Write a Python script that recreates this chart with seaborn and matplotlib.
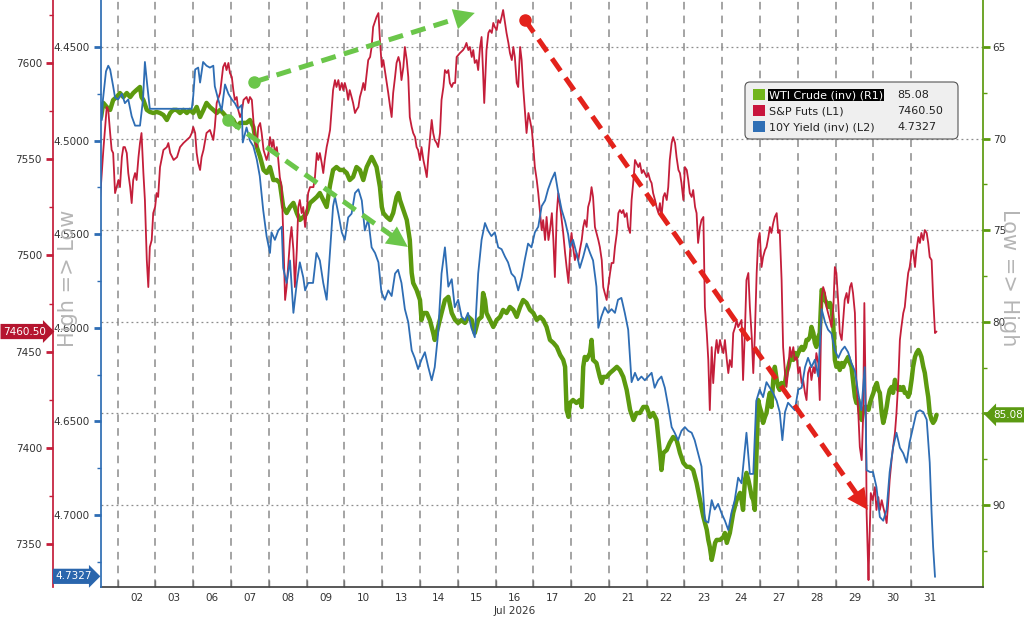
import numpy as np
import matplotlib
matplotlib.use('Agg')
import matplotlib.pyplot as plt
import seaborn as sns
from matplotlib.patches import FancyBboxPatch, Rectangle
from matplotlib.ticker import FixedLocator, FormatStrFormatter

# x axis = trading session index: session k spans [k, k+1), 02 Jul = 1 ... 31 Jul = 22
day_labels = ['02', '03', '06', '07', '08', '09', '10', '13', '14', '15', '16',
              '17', '20', '21', '22', '23', '24', '27', '28', '29', '30', '31']

# 10Y yield (inverted, inner left axis)
y10_t = [0.58, 0.61, 0.69, 0.75, 0.80, 0.88, 0.93, 1.01, 1.11, 1.19,
         1.28, 1.37, 1.46, 1.59, 1.67, 1.72, 1.78, 1.85, 2.96, 3.00,
         3.05, 3.13, 3.18, 3.26, 3.35, 3.44, 3.53, 3.57, 3.66, 3.75,
         3.84, 3.93, 4.02, 4.10, 4.18, 4.28, 4.31, 4.41, 4.50, 4.59,
         4.68, 4.76, 4.85, 4.94, 5.03, 5.07, 5.16, 5.25, 5.34, 5.38,
         5.47, 5.56, 5.65, 5.74, 5.82, 5.91, 5.96, 6.04, 6.17, 6.26,
         6.35, 6.44, 6.53, 6.62, 6.70, 6.75, 6.84, 6.93, 7.01, 7.10,
         7.19, 7.28, 7.37, 7.46, 7.54, 7.63, 7.72, 7.81, 7.90, 7.98,
         8.07, 8.16, 8.25, 8.34, 8.42, 8.51, 8.60, 8.69, 8.78, 8.86,
         8.95, 9.04, 9.13, 9.22, 9.31, 9.39, 9.48, 9.57, 9.66, 9.75,
         9.84, 9.92, 10.01, 10.10, 10.19, 10.27, 10.36, 10.45, 10.54, 10.63,
         10.72, 10.80, 10.89, 10.98, 11.07, 11.16, 11.25, 11.33, 11.42, 11.51,
         11.60, 11.69, 11.77, 11.86, 11.95, 12.04, 12.13, 12.22, 12.31, 12.39,
         12.48, 12.57, 12.66, 12.75, 12.84, 12.92, 12.97, 13.05, 13.14, 13.23,
         13.32, 13.41, 13.50, 13.58, 13.67, 13.72, 13.80, 13.89, 13.98, 14.07,
         14.16, 14.24, 14.33, 14.42, 14.51, 14.60, 14.69, 14.77, 14.86, 14.95,
         15.04, 15.13, 15.21, 15.30, 15.39, 15.48, 15.57, 15.66, 15.74, 15.83,
         15.92, 16.01, 16.10, 16.19, 16.27, 16.36, 16.45, 16.54, 16.63, 16.72,
         16.80, 16.89, 16.98, 17.07, 17.16, 17.24, 17.33, 17.42, 17.51, 17.64,
         17.73, 17.82, 17.90, 17.99, 18.08, 18.17, 18.26, 18.35, 18.44, 18.52,
         18.59, 18.66, 18.74, 18.83, 18.92, 19.01, 19.10, 19.19, 19.27, 19.36,
         19.45, 19.54, 19.63, 19.72, 19.80, 19.89, 19.98, 20.07, 20.16, 20.24,
         20.33, 20.42, 20.51, 20.60, 20.68, 20.77, 20.82, 20.91, 20.99, 21.08,
         21.17, 21.26, 21.35, 21.43, 21.52, 21.61, 21.70, 21.79, 21.88, 21.96,
         22.05, 22.14, 22.23, 22.32, 22.41, 22.49, 22.54, 22.58, 22.63]
y10 = [4.489, 4.478, 4.463, 4.460, 4.462, 4.471, 4.477, 4.478, 4.475, 4.480,
       4.478, 4.487, 4.492, 4.492, 4.478, 4.458, 4.470, 4.483, 4.483, 4.476,
       4.462, 4.461, 4.469, 4.458, 4.460, 4.461, 4.460, 4.471, 4.478, 4.484,
       4.470, 4.475, 4.478, 4.480, 4.483, 4.481, 4.501, 4.493, 4.500, 4.503,
       4.510, 4.519, 4.537, 4.551, 4.560, 4.549, 4.553, 4.548, 4.546, 4.568,
       4.576, 4.564, 4.592, 4.576, 4.565, 4.573, 4.580, 4.576, 4.576, 4.560,
       4.564, 4.576, 4.585, 4.559, 4.535, 4.530, 4.539, 4.549, 4.553, 4.541,
       4.539, 4.528, 4.526, 4.532, 4.548, 4.542, 4.557, 4.560, 4.565, 4.581,
       4.585, 4.580, 4.583, 4.571, 4.569, 4.576, 4.590, 4.597, 4.612, 4.616,
       4.622, 4.617, 4.613, 4.621, 4.628, 4.621, 4.603, 4.571, 4.557, 4.578,
       4.574, 4.589, 4.585, 4.594, 4.596, 4.592, 4.600, 4.605, 4.571, 4.553,
       4.544, 4.548, 4.551, 4.549, 4.557, 4.558, 4.562, 4.565, 4.571, 4.573,
       4.580, 4.573, 4.564, 4.555, 4.557, 4.549, 4.546, 4.535, 4.532, 4.526,
       4.521, 4.517, 4.528, 4.537, 4.543, 4.550, 4.557, 4.553, 4.560, 4.568,
       4.562, 4.555, 4.560, 4.564, 4.578, 4.600, 4.594, 4.589, 4.592, 4.590,
       4.592, 4.585, 4.584, 4.592, 4.601, 4.629, 4.624, 4.628, 4.626, 4.628,
       4.626, 4.624, 4.632, 4.628, 4.626, 4.632, 4.642, 4.653, 4.656, 4.660,
       4.655, 4.653, 4.655, 4.656, 4.660, 4.667, 4.674, 4.703, 4.704, 4.692,
       4.697, 4.694, 4.699, 4.703, 4.708, 4.699, 4.692, 4.680, 4.683, 4.656,
       4.678, 4.678, 4.639, 4.633, 4.637, 4.629, 4.632, 4.635, 4.639, 4.645,
       4.660, 4.645, 4.640, 4.642, 4.644, 4.633, 4.632, 4.621, 4.616, 4.621,
       4.617, 4.626, 4.590, 4.597, 4.601, 4.603, 4.612, 4.616, 4.612, 4.610,
       4.613, 4.619, 4.623, 4.635, 4.644, 4.621, 4.676, 4.677, 4.677, 4.685,
       4.701, 4.703, 4.697, 4.677, 4.664, 4.656, 4.664, 4.667, 4.672, 4.661,
       4.653, 4.645, 4.644, 4.645, 4.649, 4.672, 4.699, 4.717, 4.733]

# S&P futures (outer left axis)
spx_t = [0.53, 0.62, 0.71, 0.75, 0.80, 0.84, 0.88, 0.93, 0.97, 1.02,
         1.06, 1.11, 1.15, 1.19, 1.24, 1.28, 1.33, 1.37, 1.41, 1.46,
         1.50, 1.55, 1.59, 1.63, 1.68, 1.72, 1.77, 1.81, 1.85, 1.90,
         1.94, 1.99, 2.03, 2.07, 2.12, 2.21, 2.30, 2.34, 2.39, 2.48,
         2.57, 2.65, 2.74, 2.83, 2.91, 2.96, 3.00, 3.05, 3.09, 3.13,
         3.18, 3.22, 3.27, 3.35, 3.44, 3.53, 3.57, 3.62, 3.71, 3.79,
         3.84, 3.88, 3.93, 3.97, 4.02, 4.06, 4.10, 4.15, 4.19, 4.24,
         4.28, 4.33, 4.41, 4.46, 4.50, 4.55, 4.59, 4.63, 4.68, 4.72,
         4.77, 4.81, 4.86, 4.94, 4.99, 5.03, 5.08, 5.12, 5.16, 5.21,
         5.25, 5.29, 5.34, 5.38, 5.43, 5.47, 5.51, 5.56, 5.60, 5.65,
         5.69, 5.74, 5.78, 5.82, 5.87, 5.91, 5.96, 6.00, 6.04, 6.09,
         6.18, 6.22, 6.27, 6.31, 6.35, 6.40, 6.44, 6.48, 6.53, 6.57,
         6.62, 6.66, 6.70, 6.75, 6.79, 6.84, 6.88, 6.93, 6.97, 7.01,
         7.06, 7.10, 7.14, 7.19, 7.23, 7.28, 7.32, 7.37, 7.41, 7.46,
         7.50, 7.54, 7.59, 7.63, 7.68, 7.72, 7.76, 7.85, 7.90, 7.94,
         7.99, 8.03, 8.07, 8.12, 8.16, 8.21, 8.25, 8.29, 8.34, 8.38,
         8.43, 8.47, 8.51, 8.56, 8.60, 8.65, 8.69, 8.73, 8.78, 8.82,
         8.87, 8.91, 8.95, 9.00, 9.04, 9.09, 9.13, 9.18, 9.22, 9.26,
         9.31, 9.35, 9.39, 9.44, 9.48, 9.53, 9.57, 9.62, 9.66, 9.71,
         9.75, 9.79, 9.84, 9.88, 9.93, 9.97, 10.06, 10.14, 10.19, 10.23,
         10.28, 10.32, 10.37, 10.41, 10.45, 10.50, 10.54, 10.59, 10.63, 10.67,
         10.70, 10.76, 10.81, 10.85, 10.90, 10.94, 10.98, 11.03, 11.07, 11.12,
         11.16, 11.20, 11.25, 11.29, 11.34, 11.38, 11.43, 11.47, 11.51, 11.56,
         11.60, 11.65, 11.69, 11.73, 11.78, 11.82, 11.87, 11.91, 11.96, 12.00,
         12.04, 12.09, 12.13, 12.18, 12.22, 12.26, 12.31, 12.35, 12.40, 12.44,
         12.49, 12.53, 12.57, 12.62, 12.66, 12.71, 12.75, 12.79, 12.84, 12.88,
         12.93, 12.97, 13.01, 13.05, 13.10, 13.14, 13.19, 13.23, 13.28, 13.32,
         13.36, 13.41, 13.45, 13.50, 13.54, 13.58, 13.63, 13.67, 13.72, 13.76,
         13.81, 13.85, 13.89, 13.94, 13.98, 14.03, 14.07, 14.12, 14.16, 14.21,
         14.25, 14.29, 14.34, 14.38, 14.42, 14.47, 14.51, 14.56, 14.60, 14.65,
         14.69, 14.73, 14.78, 14.82, 14.87, 14.91, 14.95, 15.00, 15.04, 15.09,
         15.13, 15.17, 15.22, 15.26, 15.31, 15.35, 15.39, 15.44, 15.48, 15.53,
         15.57, 15.61, 15.66, 15.70, 15.75, 15.79, 15.84, 15.88, 15.92, 15.97,
         16.01, 16.06, 16.10, 16.14, 16.19, 16.23, 16.28, 16.32, 16.36, 16.41,
         16.45, 16.50, 16.54, 16.59, 16.63, 16.67, 16.72, 16.76, 16.81, 16.85,
         16.89, 16.94, 16.98, 17.03, 17.07, 17.12, 17.16, 17.20, 17.25, 17.29,
         17.34, 17.38, 17.42, 17.47, 17.51, 17.55, 17.60, 17.64, 17.69, 17.73,
         17.78, 17.82, 17.86, 17.91, 17.95, 17.99, 18.04, 18.08, 18.13, 18.17,
         18.22, 18.26, 18.30, 18.35, 18.39, 18.44, 18.48, 18.52, 18.57, 18.61,
         18.66, 18.70, 18.75, 18.79, 18.83, 18.88, 18.92, 18.97, 19.01, 19.05,
         19.10, 19.14, 19.19, 19.23, 19.27, 19.32, 19.36, 19.41, 19.45, 19.49,
         19.54, 19.58, 19.63, 19.67, 19.72, 19.76, 19.80, 19.85, 19.89, 19.94,
         19.98, 20.02, 20.07, 20.11, 20.16, 20.20, 20.24, 20.29, 20.33, 20.38,
         20.42, 20.46, 20.51, 20.55, 20.60, 20.64, 20.69, 20.73, 20.76, 20.80,
         20.82, 20.87, 20.89, 20.93, 20.98, 21.04, 21.08, 21.13, 21.17, 21.22,
         21.26, 21.30, 21.35, 21.39, 21.43, 21.48, 21.52, 21.57, 21.61, 21.66,
         21.70, 21.74, 21.79, 21.83, 21.88, 21.92, 21.96, 22.01, 22.05, 22.10,
         22.14, 22.19, 22.23, 22.27, 22.32, 22.36, 22.41, 22.45, 22.49, 22.54,
         22.58, 22.63, 22.67]
spx = [7528.8, 7554.8, 7577.1, 7575.6, 7563.6, 7554.8, 7553.2, 7532.4, 7535.5, 7539.2,
       7535.5, 7551.1, 7556.3, 7556.3, 7553.2, 7542.8, 7535.5, 7527.2, 7539.2, 7542.8,
       7539.2, 7551.1, 7558.4, 7563.6, 7542.8, 7528.8, 7497.6, 7483.6, 7504.4, 7508.0,
       7522.0, 7525.2, 7532.4, 7530.4, 7545.9, 7554.8, 7556.3, 7558.4, 7553.2, 7549.6,
       7551.1, 7556.3, 7558.4, 7560.0, 7561.5, 7563.6, 7566.7, 7563.6, 7553.2, 7548.0,
       7544.4, 7551.1, 7554.8, 7563.6, 7565.2, 7560.0, 7566.7, 7579.2, 7584.4, 7597.9,
       7600.0, 7596.3, 7600.0, 7594.8, 7592.7, 7585.9, 7580.8, 7582.3, 7575.6, 7571.9,
       7574.0, 7580.8, 7582.3, 7579.2, 7582.3, 7580.8, 7570.4, 7560.0, 7556.3, 7566.7,
       7568.8, 7563.6, 7554.8, 7549.6, 7553.2, 7561.5, 7556.3, 7560.0, 7553.2, 7556.3,
       7549.6, 7540.7, 7535.5, 7511.7, 7476.9, 7483.6, 7494.0, 7508.0, 7514.8, 7502.8,
       7483.6, 7502.8, 7525.2, 7528.8, 7522.0, 7525.2, 7514.8, 7522.0, 7532.4, 7535.5,
       7535.5, 7540.7, 7553.2, 7549.6, 7553.2, 7548.0, 7542.8, 7549.6, 7556.3, 7560.0,
       7565.2, 7575.6, 7585.9, 7591.1, 7587.5, 7591.1, 7585.9, 7589.6, 7585.9, 7589.6,
       7585.9, 7580.8, 7585.9, 7582.3, 7579.2, 7574.0, 7575.6, 7577.1, 7582.3, 7585.9,
       7589.6, 7585.9, 7594.8, 7601.5, 7603.1, 7608.3, 7618.7, 7623.9, 7625.9, 7611.9,
       7597.9, 7601.5, 7596.3, 7589.6, 7584.4, 7577.1, 7571.9, 7584.4, 7592.7, 7600.0,
       7603.1, 7600.0, 7591.1, 7597.9, 7608.3, 7601.5, 7592.7, 7571.9, 7566.7, 7563.6,
       7561.5, 7556.3, 7554.8, 7549.6, 7556.3, 7549.6, 7545.9, 7540.7, 7551.1, 7560.0,
       7570.4, 7563.6, 7560.0, 7558.4, 7556.3, 7563.6, 7580.8, 7587.5, 7596.3, 7594.8,
       7596.3, 7589.6, 7587.5, 7589.6, 7589.6, 7603.1, 7605.2, 7606.7, 7608.3, 7610.4,
       7606.7, 7608.3, 7603.1, 7606.7, 7600.0, 7601.5, 7596.3, 7608.3, 7613.5, 7594.8,
       7579.2, 7606.7, 7615.6, 7617.1, 7615.6, 7620.8, 7618.7, 7617.1, 7622.3, 7620.8,
       7623.9, 7627.5, 7620.8, 7615.6, 7610.4, 7605.2, 7601.5, 7608.3, 7603.1, 7589.6,
       7587.5, 7608.3, 7601.5, 7587.5, 7574.0, 7563.6, 7574.0, 7570.4, 7565.2, 7556.3,
       7545.9, 7539.2, 7532.4, 7522.0, 7513.2, 7518.4, 7508.0, 7520.0, 7508.0, 7513.2,
       7522.0, 7508.0, 7488.8, 7522.0, 7532.4, 7525.2, 7518.4, 7511.7, 7501.3, 7494.0,
       7485.7, 7501.3, 7511.7, 7504.4, 7497.6, 7501.3, 7497.6, 7502.8, 7508.0, 7514.8,
       7518.4, 7514.8, 7525.2, 7528.8, 7535.5, 7530.4, 7514.8, 7511.7, 7508.0, 7504.4,
       7497.6, 7483.6, 7480.5, 7476.9, 7483.6, 7490.9, 7496.1, 7496.1, 7504.4, 7511.7,
       7522.0, 7523.6, 7522.0, 7523.6, 7520.0, 7522.0, 7514.8, 7511.7, 7528.8, 7539.2,
       7549.6, 7548.0, 7545.9, 7548.0, 7542.8, 7544.4, 7542.8, 7540.7, 7542.8, 7539.2,
       7537.6, 7532.4, 7528.8, 7525.2, 7522.0, 7527.2, 7520.0, 7530.4, 7532.4, 7528.8,
       7535.5, 7549.6, 7558.4, 7561.5, 7558.4, 7551.1, 7544.4, 7542.8, 7537.6, 7528.8,
       7545.9, 7544.4, 7539.2, 7532.4, 7530.4, 7534.0, 7525.2, 7522.0, 7506.5, 7514.8,
       7518.4, 7520.0, 7473.2, 7459.7, 7445.7, 7419.7, 7452.4, 7433.7, 7449.3, 7456.1,
       7449.3, 7456.1, 7452.4, 7449.3, 7456.1, 7445.7, 7438.9, 7445.7, 7442.0, 7459.7,
       7462.8, 7466.5, 7462.8, 7464.9, 7466.5, 7435.3, 7461.3, 7487.2, 7490.9, 7473.2,
       7457.6, 7438.9, 7457.6, 7490.9, 7508.0, 7511.7, 7494.0, 7499.2, 7502.8, 7504.4,
       7509.6, 7514.8, 7511.7, 7516.9, 7520.0, 7522.0, 7511.7, 7513.2, 7487.2, 7452.4,
       7438.9, 7431.7, 7442.0, 7452.4, 7447.2, 7452.4, 7445.7, 7447.2, 7438.9, 7442.0,
       7433.7, 7435.3, 7428.5, 7424.9, 7438.9, 7442.0, 7435.3, 7442.0, 7438.9, 7449.3,
       7444.1, 7424.9, 7478.4, 7483.6, 7480.5, 7473.2, 7470.1, 7466.5, 7462.8, 7473.2,
       7494.0, 7490.9, 7475.3, 7459.7, 7456.1, 7466.5, 7476.9, 7480.5, 7475.3, 7483.6,
       7485.7, 7480.5, 7470.1, 7435.3, 7418.2, 7400.5, 7393.7, 7418.2, 7475.3, 7418.2,
       7366.2, 7331.4, 7348.5, 7376.6, 7372.9, 7379.7, 7367.8, 7374.5, 7367.8, 7372.9,
       7369.3, 7366.2, 7361.0, 7371.4, 7383.3, 7393.7, 7400.5, 7407.8, 7418.2, 7435.3,
       7456.1, 7462.8, 7470.1, 7473.2, 7483.6, 7490.9, 7494.0, 7501.3, 7502.8, 7494.0,
       7502.8, 7509.6, 7506.5, 7511.7, 7508.0, 7513.2, 7511.7, 7506.5, 7499.2, 7497.6,
       7478.4, 7459.7, 7460.5]

# WTI crude (inverted, right axis)
wti_t = [0.56, 0.62, 0.71, 0.80, 0.88, 0.97, 1.06, 1.15, 1.24, 1.33,
         1.41, 1.50, 1.59, 1.63, 1.68, 1.77, 1.85, 1.94, 2.03, 2.12,
         2.21, 2.30, 2.39, 2.47, 2.56, 2.65, 2.74, 2.83, 2.91, 3.00,
         3.09, 3.18, 3.27, 3.35, 3.44, 3.53, 3.62, 3.71, 3.79, 3.88,
         3.97, 4.06, 4.15, 4.24, 4.33, 4.41, 4.50, 4.59, 4.68, 4.77,
         4.86, 4.94, 5.03, 5.12, 5.21, 5.29, 5.38, 5.47, 5.56, 5.65,
         5.74, 5.82, 5.91, 6.00, 6.09, 6.18, 6.27, 6.35, 6.44, 6.53,
         6.62, 6.70, 6.79, 6.88, 6.97, 7.06, 7.14, 7.23, 7.32, 7.41,
         7.50, 7.59, 7.68, 7.72, 7.76, 7.85, 7.94, 7.99, 8.03, 8.12,
         8.21, 8.29, 8.38, 8.43, 8.47, 8.56, 8.65, 8.73, 8.78, 8.82,
         8.91, 9.00, 9.04, 9.09, 9.18, 9.26, 9.35, 9.39, 9.48, 9.57,
         9.66, 9.75, 9.84, 9.93, 10.01, 10.10, 10.19, 10.28, 10.37, 10.45,
         10.54, 10.63, 10.67, 10.72, 10.76, 10.85, 10.94, 11.03, 11.12, 11.20,
         11.29, 11.38, 11.47, 11.56, 11.65, 11.73, 11.82, 11.91, 12.00, 12.09,
         12.18, 12.26, 12.35, 12.44, 12.53, 12.62, 12.71, 12.79, 12.84, 12.88,
         12.93, 12.97, 13.05, 13.14, 13.23, 13.28, 13.32, 13.36, 13.41, 13.50,
         13.54, 13.58, 13.67, 13.76, 13.81, 13.85, 13.94, 14.03, 14.12, 14.21,
         14.29, 14.38, 14.47, 14.56, 14.65, 14.73, 14.82, 14.91, 15.00, 15.09,
         15.17, 15.26, 15.35, 15.39, 15.44, 15.53, 15.61, 15.70, 15.79, 15.84,
         15.88, 15.97, 16.06, 16.14, 16.23, 16.32, 16.41, 16.50, 16.59, 16.63,
         16.67, 16.72, 16.76, 16.81, 16.85, 16.94, 17.03, 17.07, 17.12, 17.20,
         17.29, 17.38, 17.47, 17.51, 17.55, 17.60, 17.64, 17.69, 17.73, 17.78,
         17.82, 17.86, 17.91, 17.95, 17.99, 18.04, 18.08, 18.13, 18.17, 18.22,
         18.26, 18.30, 18.35, 18.39, 18.44, 18.48, 18.52, 18.57, 18.61, 18.66,
         18.70, 18.75, 18.79, 18.83, 18.88, 18.92, 18.97, 19.01, 19.05, 19.10,
         19.14, 19.19, 19.23, 19.27, 19.32, 19.36, 19.41, 19.45, 19.49, 19.54,
         19.58, 19.63, 19.67, 19.72, 19.76, 19.80, 19.85, 19.89, 19.94, 19.98,
         20.02, 20.07, 20.11, 20.16, 20.20, 20.24, 20.29, 20.33, 20.38, 20.42,
         20.46, 20.51, 20.55, 20.60, 20.64, 20.69, 20.73, 20.77, 20.82, 20.87,
         20.91, 20.96, 21.00, 21.04, 21.09, 21.13, 21.17, 21.22, 21.26, 21.30,
         21.35, 21.39, 21.43, 21.48, 21.52, 21.57, 21.61, 21.66, 21.70, 21.74,
         21.79, 21.83, 21.88, 21.92, 21.96, 22.01, 22.05, 22.10, 22.14, 22.19,
         22.23, 22.27, 22.32, 22.36, 22.41, 22.45, 22.49, 22.54, 22.58, 22.63,
         22.67]
wti = [68.82, 68.05, 68.27, 68.43, 67.89, 67.73, 67.51, 67.73, 67.51, 67.73,
       67.51, 67.34, 67.18, 67.73, 67.89, 68.43, 68.54, 68.60, 68.54, 68.60,
       68.71, 68.98, 68.60, 68.43, 68.43, 68.60, 68.43, 68.60, 68.43, 68.60,
       68.27, 68.82, 68.43, 68.05, 68.27, 68.43, 68.60, 68.43, 68.60, 68.82,
       68.82, 68.98, 69.36, 69.14, 69.14, 69.14, 68.98, 69.36, 70.45, 71.00,
       71.71, 71.87, 71.55, 72.26, 72.26, 72.42, 73.73, 74.06, 73.73, 73.51,
       74.06, 74.44, 74.28, 74.06, 73.51, 73.35, 73.18, 72.97, 73.35, 73.73,
       72.53, 71.71, 71.55, 71.71, 71.71, 71.87, 72.26, 72.09, 71.55, 71.71,
       72.26, 71.55, 71.16, 71.00, 71.16, 71.55, 72.64, 73.73, 74.06, 74.28,
       74.44, 74.06, 73.18, 72.97, 73.35, 73.89, 74.44, 75.53, 77.33, 77.88,
       78.26, 78.81, 79.90, 79.52, 79.52, 79.90, 80.61, 80.99, 80.28, 79.52,
       78.81, 78.64, 79.52, 79.90, 80.06, 79.90, 80.06, 79.73, 79.90, 80.61,
       79.90, 79.73, 78.43, 78.81, 79.52, 79.90, 80.28, 79.90, 79.73, 79.35,
       79.52, 79.19, 79.35, 79.73, 79.19, 78.81, 78.97, 79.35, 79.52, 79.90,
       79.73, 79.90, 80.28, 80.99, 81.15, 81.37, 81.81, 82.08, 82.46, 84.81,
       85.19, 84.43, 84.27, 84.43, 84.27, 84.65, 82.46, 81.92, 82.08, 81.70,
       80.99, 82.08, 82.25, 83.01, 83.34, 83.01, 83.01, 82.79, 82.63, 82.46,
       82.63, 83.01, 83.72, 84.81, 85.36, 84.98, 84.98, 84.65, 84.65, 85.19,
       84.98, 85.36, 87.16, 88.09, 87.16, 87.00, 86.61, 86.29, 86.45, 86.83,
       87.16, 87.70, 87.92, 87.92, 88.09, 88.80, 89.73, 90.65, 91.36, 91.91,
       92.29, 93.00, 92.62, 92.07, 91.91, 91.91, 91.75, 91.53, 92.07, 91.53,
       90.43, 89.73, 89.34, 89.73, 90.27, 88.63, 88.25, 88.63, 89.02, 89.56,
       89.73, 90.27, 86.83, 84.27, 84.65, 84.98, 85.52, 85.19, 84.98, 84.27,
       83.88, 84.65, 83.17, 82.46, 83.17, 83.56, 83.72, 83.34, 83.56, 83.34,
       82.79, 82.46, 82.08, 81.92, 82.08, 81.70, 81.92, 81.70, 81.54, 81.37,
       81.54, 81.37, 80.99, 80.99, 80.83, 80.28, 80.61, 81.15, 81.37, 80.83,
       80.61, 78.26, 78.43, 78.81, 78.97, 79.19, 78.97, 79.19, 80.28, 82.08,
       82.46, 82.25, 82.63, 82.25, 82.46, 82.25, 82.08, 81.92, 82.25, 82.46,
       83.17, 84.10, 84.43, 84.27, 84.98, 85.36, 84.81, 84.65, 84.65, 84.81,
       84.43, 84.10, 83.88, 83.56, 83.34, 83.72, 83.88, 84.98, 85.52, 85.19,
       84.65, 84.10, 83.72, 83.56, 83.88, 83.17, 83.56, 83.72, 83.56, 83.72,
       83.56, 83.88, 83.88, 84.10, 83.88, 83.17, 82.46, 81.92, 81.70, 81.54,
       81.70, 81.92, 82.46, 82.79, 83.56, 84.10, 84.98, 85.36, 85.52, 85.36,
       85.08]

last_wti, last_spx, last_y10 = 85.08, 7460.50, 4.7327
legend_names = ['WTI Crude (inv) (R1)', 'S&P Futs (L1)', '10Y Yield (inv) (L2)']
legend_values = ['85.08', '7460.50', '4.7327']

# hand-drawn trend arrows: (start session, start yield-axis level, end session, end level)
arrows = [(4.61, 4.4687, 10.45, 4.4318, '#6bc64a'),
          (3.92, 4.4890, 8.68, 4.5568, '#6bc64a'),
          (11.78, 4.4356, 20.85, 4.6972, '#e3221b')]

GREEN = '#5c9a0f'
RED = '#c41e3a'
BLUE = '#2e6db4'
TXT = '#333333'

sns.set_theme(style='white')
plt.rcParams['font.family'] = ['DejaVu Sans']

W, H = 1024, 618
fig = plt.figure(figsize=(W / 100, H / 100), dpi=100)
ax_oil = fig.add_axes([101 / W, 31 / H, 882 / W, 587 / H])
ax_spx = ax_oil.twinx()
ax_yld = ax_oil.twinx()

sns.lineplot(x=wti_t, y=wti, ax=ax_oil, color=GREEN, lw=3.2, estimator=None, sort=False)
sns.lineplot(x=spx_t, y=spx, ax=ax_spx, color=RED, lw=1.3, estimator=None, sort=False)
sns.lineplot(x=y10_t, y=y10, ax=ax_yld, color=BLUE, lw=1.3, estimator=None, sort=False)

ax_oil.set_xlim(0.558, 23.9)
ax_oil.set_ylim(94.48, 62.43)
ax_spx.set_ylim(7327.8, 7632.7)
ax_yld.set_ylim(4.7384, 4.4249)
for a in (ax_oil, ax_spx, ax_yld):
    a.set_xlabel('')
    a.set_ylabel('')
    a.spines['top'].set_visible(False)

# right axis: WTI
ax_oil.yaxis.tick_right()
ax_oil.spines['left'].set_visible(False)
ax_oil.spines['right'].set_color(GREEN)
ax_oil.spines['bottom'].set_color('#444444')
ax_oil.yaxis.set_major_locator(FixedLocator([65, 70, 75, 80, 85, 90]))
ax_oil.yaxis.set_minor_locator(FixedLocator([67.5, 72.5, 77.5, 82.5, 87.5, 92.5]))
ax_oil.yaxis.set_major_formatter(FormatStrFormatter('%d'))
ax_oil.tick_params(axis='y', which='both', colors=GREEN, labelcolor=TXT, direction='out',
                   labelsize=7.5, pad=2, right=True, left=False)
ax_oil.tick_params(axis='y', which='major', length=5, width=2)
ax_oil.tick_params(axis='y', which='minor', length=3, width=1)

# x axis
ax_oil.set_xticks(np.arange(1, len(day_labels) + 1))
ax_oil.set_xticklabels([''] * len(day_labels))
ax_oil.set_xticks(np.arange(1, len(day_labels) + 1) + 0.5, minor=True)
ax_oil.set_xticklabels(day_labels, minor=True)
ax_oil.tick_params(axis='x', which='major', direction='in', length=5, width=1, color='#777777', bottom=True)
ax_oil.tick_params(axis='x', which='minor', length=0, labelsize=7.5, labelcolor=TXT, pad=4)
ax_oil.grid(True, axis='x', which='major', color='#8c8c8c', ls=(0, (5, 4)), lw=1.1)
ax_oil.grid(True, axis='y', which='major', color='#8c8c8c', ls=(0, (1.5, 2.5)), lw=0.9)

# outer left axis: S&P
ax_spx.yaxis.tick_left()
ax_spx.spines['left'].set_position(('outward', 48 * 0.72))
ax_spx.spines['left'].set_color(RED)
for s in ('right', 'bottom'):
    ax_spx.spines[s].set_visible(False)
ax_spx.yaxis.set_major_locator(FixedLocator([7350, 7400, 7450, 7500, 7550, 7600]))
ax_spx.yaxis.set_minor_locator(FixedLocator([7375, 7425, 7475, 7525, 7575, 7625]))
ax_spx.yaxis.set_major_formatter(FormatStrFormatter('%d'))
ax_spx.tick_params(axis='y', which='both', colors=RED, labelcolor=TXT, direction='out',
                   labelsize=7.5, pad=3, left=True, right=False)
ax_spx.tick_params(axis='y', which='major', length=5, width=2)
ax_spx.tick_params(axis='y', which='minor', length=3, width=1)

# inner left axis: 10Y yield
ax_yld.yaxis.tick_left()
ax_yld.spines['left'].set_color(BLUE)
for s in ('right', 'bottom'):
    ax_yld.spines[s].set_visible(False)
ax_yld.yaxis.set_major_locator(FixedLocator([4.45, 4.50, 4.55, 4.60, 4.65, 4.70]))
ax_yld.yaxis.set_minor_locator(FixedLocator([4.475, 4.525, 4.575, 4.625, 4.675, 4.725]))
ax_yld.yaxis.set_major_formatter(FormatStrFormatter('%.4f'))
ax_yld.tick_params(axis='y', which='both', colors=BLUE, labelcolor=TXT, direction='out',
                   labelsize=7.5, pad=3, left=True, right=False)
ax_yld.tick_params(axis='y', which='major', length=5, width=2)
ax_yld.tick_params(axis='y', which='minor', length=3, width=1)

# trend arrows: dashed shaft plus a solid head of fixed pixel size
to_px = ax_yld.transData
for x0, y0, x1, y1, c in arrows:
    p0 = to_px.transform((x0, y0))
    p1 = to_px.transform((x1, y1))
    u = (p1 - p0) / np.hypot(*(p1 - p0))
    bx, by = to_px.inverted().transform(p1 - u * 16)
    hx, hy = to_px.inverted().transform(p1 - u * 22)
    ax_yld.plot([x0, bx], [y0, by], color=c, lw=3.6, ls=(0, (3, 1.7)), dash_capstyle='butt', zorder=5)
    ax_yld.plot([x0], [y0], 'o', color=c, ms=8, zorder=5)
    ax_yld.annotate('', xy=(x1, y1), xytext=(hx, hy), zorder=6,
                    arrowprops=dict(arrowstyle='-|>,head_length=1.0,head_width=0.5',
                                    mutation_scale=15, color=c, lw=0, shrinkA=0, shrinkB=0))

# last value tags
ax_spx.annotate(f'{last_spx:.2f}', xy=(0, last_spx), xycoords=ax_spx.get_yaxis_transform(),
                xytext=(-55, 0), textcoords='offset pixels', ha='right', va='center',
                color='white', fontsize=7.5, annotation_clip=False,
                bbox=dict(boxstyle='rarrow,pad=0.25', fc='#b5152f', ec='none'))
ax_yld.annotate(f'{last_y10:.4f}', xy=(0, last_y10), xycoords=ax_yld.get_yaxis_transform(),
                xytext=(-9, 0), textcoords='offset pixels', ha='right', va='center',
                color='white', fontsize=7.5, annotation_clip=False,
                bbox=dict(boxstyle='rarrow,pad=0.25', fc='#2a66ad', ec='none'))
ax_oil.annotate(f'{last_wti:.2f}', xy=(1, last_wti), xycoords=ax_oil.get_yaxis_transform(),
                xytext=(10, 0), textcoords='offset pixels', ha='left', va='center',
                color='white', fontsize=7.5, annotation_clip=False,
                bbox=dict(boxstyle='larrow,pad=0.25', fc='#5b9a12', ec='none'))

# axis direction notes
fig.text(68 / W, 1 - 278 / H, 'High => Low', rotation=90, ha='center', va='center',
         fontsize=15, color='#b5b5b5')
fig.text(1009 / W, 1 - 278 / H, 'Low => High', rotation=270, ha='center', va='center',
         fontsize=15, color='#b5b5b5')
fig.text(515 / W, 1 - 611 / H, 'Jul 2026', ha='center', va='center', fontsize=7.5, color=TXT)

# legend box (Bloomberg style)
inch = fig.dpi_scale_trans
fig.patches.append(FancyBboxPatch((7.45, (H - 139) / 100), 2.13, 0.57,
                                  boxstyle='round,pad=0,rounding_size=0.05',
                                  fc='#efefef', ec='#555555', lw=0.8, transform=inch, zorder=10))
legend_colors = ['#72b51c', '#c8143c', '#2f6fb5']
for i, (name, val, col) in enumerate(zip(legend_names, legend_values, legend_colors)):
    yc = 95 + 16 * i
    fig.patches.append(Rectangle((7.53, (H - yc) / 100 - 0.055), 0.12, 0.11, fc=col, ec='none',
                                 transform=inch, zorder=11))
    kw = dict(fontsize=8, va='center', ha='left', zorder=12)
    if i == 0:
        fig.text(769 / W, 1 - yc / H, name, color='white',
                 bbox=dict(fc='black', ec='none', pad=0.8), **kw)
    else:
        fig.text(769 / W, 1 - yc / H, name, color='#222222', **kw)
    fig.text(897 / W, 1 - yc / H, val, color='#222222', **kw)

fig.savefig('out.png', dpi=100)
